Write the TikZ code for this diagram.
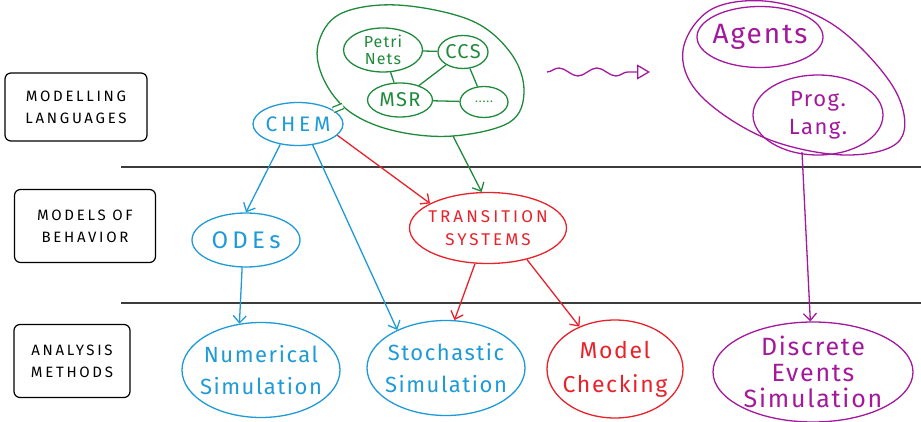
\documentclass[tikz,border=0pt]{standalone}
\usepackage{fontspec}
\setmainfont{Fira Sans}
\newfontfamily\capsfont[LetterSpace=18]{Fira Sans}
\newfontfamily\widefont[LetterSpace=7]{Fira Sans}
\usetikzlibrary{shapes.geometric,arrows.meta,decorations.pathmorphing}
\definecolor{skyblue}{HTML}{1E9AD6}
\definecolor{penred}{HTML}{E8222B}
\definecolor{pengreen}{HTML}{1F8A3B}
\definecolor{penpurple}{HTML}{A3199C}
\definecolor{rulegray}{HTML}{3C3C3C}
\newcommand{\fsz}[2]{\fontsize{#1}{#2}\selectfont}
\begin{document}
\begin{tikzpicture}[x=1pt,y=-1pt,
  pen/.style={line width=1.3pt},
  bubble/.style={ellipse, draw, pen, inner sep=-10pt, align=center},
  tagbox/.style={draw, line width=1.2pt, rounded corners=6pt, align=center,
    font=\capsfont\fsz{15}{22}},
  flow/.style={pen, -{Straight Barb[length=7pt,width=13pt]}},
  divider/.style={draw=rulegray, line width=2pt}]
\useasboundingbox (0,0) rectangle (921,422);

% level labels
\node[tagbox, minimum width=142, minimum height=68] (ml) at (76,107) {MODELLING\\LANGUAGES};
\node[tagbox, minimum width=141, minimum height=73] (mb) at (85,226) {MODELS OF\\BEHAVIOR};
\node[tagbox, minimum width=116, minimum height=73] (am) at (72,361) {ANALYSIS\\METHODS};

% dividers
\coordinate (d1a) at (121,167); \coordinate (d1b) at (921,167);
\coordinate (d2a) at (121,303); \coordinate (d2b) at (921,303);
\draw[divider] (d1a) -- (d1b);
\draw[divider] (d2a) -- (d2b);

% process calculi cluster
\draw[pengreen, pen] plot[smooth cycle, tension=0.6] coordinates {
  (318,45) (340,14) (397,5) (470,20) (510,52) (524,90)
  (510,122) (453,136) (395,131) (350,112) (324,80)};
\coordinate (langL) at (343,106);
\coordinate (langB) at (453,136);
\node[bubble, pengreen, minimum width=79, minimum height=44, font=\widefont\fsz{16}{17}] (petri) at (383,50) {Petri\\Nets};
\node[bubble, pengreen, minimum width=50, minimum height=33, font=\widefont\fsz{20}{22}] (ccs) at (463,52) {CCS};
\node[bubble, pengreen, minimum width=65, minimum height=34, font=\widefont\fsz{20}{22}] (msr) at (400,100) {MSR};
\node[bubble, pengreen, minimum width=48, minimum height=31, font=\widefont\fsz{12}{14}] (dots) at (484,102) {.....};
\draw[pengreen, pen] (petri) -- (ccs);
\draw[pengreen, pen] (petri) -- (msr);
\draw[pengreen, pen] (ccs) -- (msr);
\draw[pengreen, pen] (ccs) -- (dots);
\draw[pengreen, pen] (msr) -- (dots);

% programming cluster
\draw[penpurple, pen] plot[smooth cycle, tension=0.6] coordinates {
  (683,50) (712,9) (773,2) (838,28) (895,90) (900,140)
  (845,155) (765,138) (700,95)};
\coordinate (progB) at (802,152);
\node[bubble, penpurple, minimum width=126, minimum height=61, font=\widefont\fsz{28}{30}] (agents) at (760,37) {Agents};
\node[bubble, penpurple, minimum width=130, minimum height=80, font=\widefont\fsz{22}{28}] (prog) at (818,115) {Prog.\\Lang.};

% wavy arrow
\coordinate (wv1) at (547,72);
\coordinate (wv2) at (650,72);
\draw[penpurple, pen, -{Triangle[open,length=13pt,width=15pt]},
  decoration={snake, amplitude=4pt, segment length=38pt, post length=8pt}, decorate] (wv1) -- (wv2);

% CHEM
\node[bubble, skyblue, minimum width=90, minimum height=43, font=\capsfont\fsz{21}{24}] (chem) at (298,124) {CHEM};
\draw[pengreen, pen, double distance=4pt] (chem) -- (langL);

% models of behaviour
\node[bubble, skyblue, minimum width=108, minimum height=54, font=\capsfont\fsz{24}{28}] (odes) at (246,240) {ODEs};
\node[bubble, penred, minimum width=157, minimum height=71, font=\capsfont\fsz{17}{23}] (ts) at (488,228) {TRANSITION\\SYSTEMS};

% analysis methods
\node[bubble, skyblue, minimum width=158, minimum height=95, font=\widefont\fsz{22}{32}] (num) at (261,370) {Numerical\\Simulation};
\node[bubble, skyblue, minimum width=158, minimum height=95, font=\widefont\fsz{22}{32}] (stoch) at (446,368) {Stochastic\\Simulation};
\node[bubble, penred, minimum width=136, minimum height=98, font=\widefont\fsz{23}{34}] (mc) at (615,369) {Model\\Checking};
\node[bubble, penpurple, minimum width=200, minimum height=100, font=\widefont\fsz{25}{26}] (des) at (813,372) {Discrete\\Events\\Simulation};

% connectors
\draw[flow, pengreen] (langB) -- (ts.100);
\draw[flow, penred] (chem.-16) -- (ts.157);
\draw[flow, skyblue] (chem.229) -- (odes.north);
\draw[flow, skyblue] (chem.305) -- (stoch.142);
\draw[flow, skyblue] (odes.262) -- (num.115);
\draw[flow, penred] (ts.250) -- (stoch.80);
\draw[flow, penred] (ts.321) -- (mc.130);
\draw[flow, penpurple] (progB) -- (des.93);
\end{tikzpicture}
\end{document}
